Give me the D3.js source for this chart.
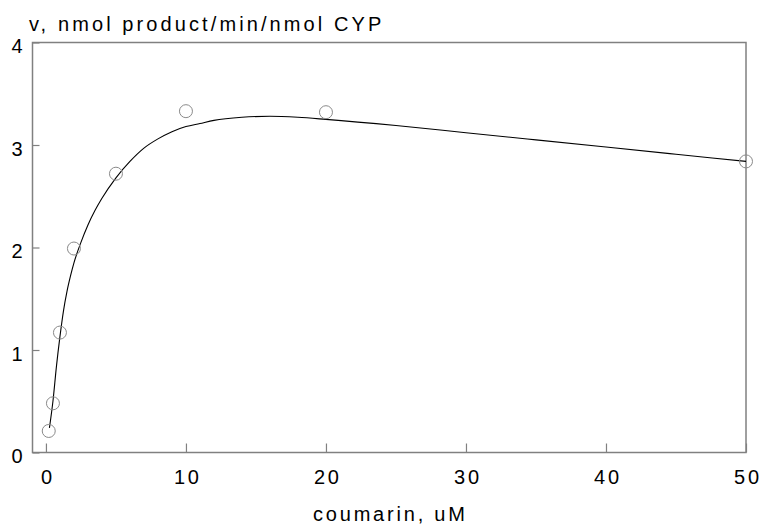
<!DOCTYPE html>
<html><head><meta charset="utf-8">
<script src="https://cdn.jsdelivr.net/npm/d3@7"></script>
<style>
body{margin:0;background:#fff;}
text{font-family:"Liberation Sans",Arial,sans-serif;fill:#000;}
</style></head>
<body><svg id="c" width="761" height="527"></svg>
<script>
// measured data points
const pointX = [0.2, 0.5, 1, 2, 5, 10, 20, 50];
const pointY = [0.21, 0.48, 1.17, 1.99, 2.72, 3.33, 3.32, 2.84];
// fitted curve
const curveX = [0.25, 0.5, 0.75, 1.0, 1.25, 1.5, 1.75, 2.0, 2.5, 3, 3.5, 4, 5, 6, 7, 8, 9, 10, 11, 12, 14, 16, 18, 20, 25, 30, 35, 40, 45, 50];
const curveY = [0.24, 0.50, 0.84, 1.13, 1.38, 1.57, 1.72, 1.85, 2.05, 2.22, 2.36, 2.48, 2.68, 2.84, 2.97, 3.06, 3.13, 3.18, 3.21, 3.24, 3.27, 3.28, 3.27, 3.25, 3.19, 3.12, 3.05, 2.98, 2.91, 2.84];
const xTicks = [0, 10, 20, 30, 40, 50];
const yTicks = [0, 1, 2, 3, 4];
const yTitle = "v, nmol product/min/nmol CYP";
const xTitle = "coumarin, uM";

const svg = d3.select("#c");
const L = 32.5, R = 746, T = 42.5, B = 452.5;
const x = d3.scaleLinear().domain([-0.96, 50]).range([L, R]);
const y = d3.scaleLinear().domain([0, 4]).range([B, T]);
const gray = "#808080";
const fs = 20, ls = "2.8px", lsT = "3.1px";

// frame
svg.append("rect").attr("x", L).attr("y", T).attr("width", R - L).attr("height", B - T)
  .attr("fill", "none").attr("stroke", gray).attr("stroke-width", 1.5);

// x ticks (inside)
const xa = d3.axisBottom(x).tickValues(xTicks).tickSize(-9).tickPadding(27).tickFormat(d3.format("d"));
const gx = svg.append("g").attr("transform", `translate(0,${B})`).call(xa);
gx.select(".domain").remove();
gx.selectAll(".tick line").attr("stroke", gray).attr("stroke-width", 1.2);
gx.selectAll(".tick text").attr("font-size", fs).attr("letter-spacing", ls).attr("dy", "0.2em")
  .attr("dx", "0.07em");

// y ticks (inside)
const ya = d3.axisLeft(y).tickValues(yTicks).tickSize(-7).tickPadding(10).tickFormat(d3.format("d"));
const gy = svg.append("g").attr("transform", `translate(${L},0)`).call(ya);
gy.select(".domain").remove();
gy.selectAll(".tick line").attr("stroke", gray).attr("stroke-width", 1.2);
gy.selectAll(".tick text").attr("font-size", fs).attr("dy", "0.5em");

// curve
const line = d3.line().x(d => x(d[0])).y(d => y(d[1])).curve(d3.curveMonotoneX);
svg.append("path").datum(d3.zip(curveX, curveY)).attr("d", line)
  .attr("fill", "none").attr("stroke", "#000").attr("stroke-width", 1.1);

// points
svg.append("g").selectAll("circle").data(d3.zip(pointX, pointY)).join("circle")
  .attr("cx", d => x(d[0])).attr("cy", d => y(d[1])).attr("r", 6.5)
  .attr("fill", "none").attr("stroke", "#8a8a8a").attr("stroke-width", 1);

// titles
svg.append("text").attr("x", 29).attr("y", 31).attr("font-size", fs).attr("letter-spacing", lsT).text(yTitle);
svg.append("text").attr("x", 313).attr("y", 521).attr("font-size", fs).attr("letter-spacing", ls).text(xTitle);
</script></body></html>
